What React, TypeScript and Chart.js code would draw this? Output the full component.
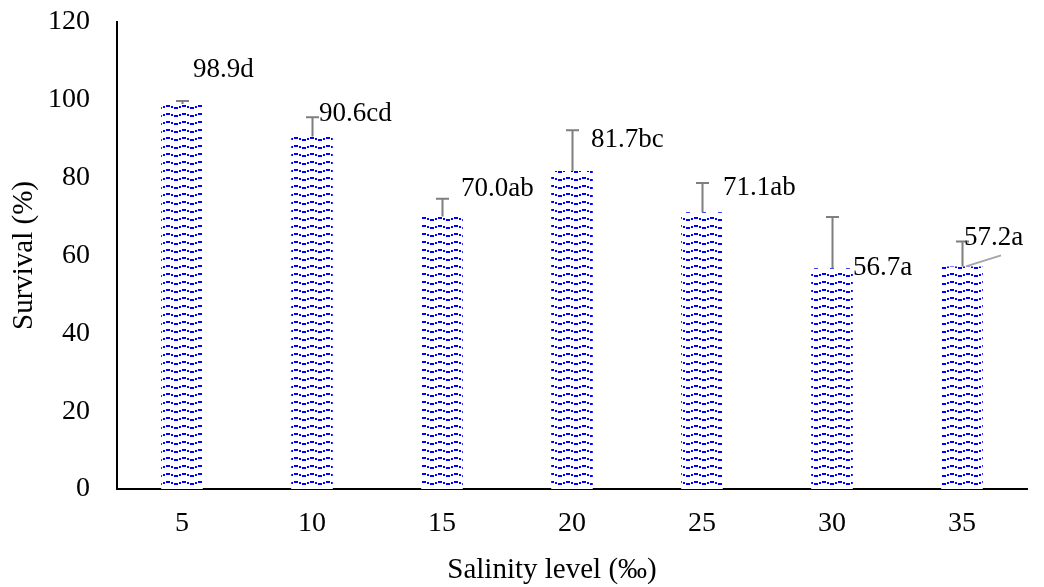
import React, { useEffect, useRef } from "react";
import { Chart, registerables } from "chart.js";

Chart.register(...registerables);

const categories = ["5", "10", "15", "20", "25", "30", "35"];
const survival = [98.9, 90.6, 70.0, 81.7, 71.1, 56.7, 57.2];
const errors = [0.8, 4.9, 4.6, 10.5, 7.5, 13.2, 6.4];
const letters = ["d", "cd", "ab", "bc", "ab", "a", "a"];
const yTicks = [0, 20, 40, 60, 80, 100, 120];
const xTitle = "Salinity level (‰)";
const yTitle = "Survival (%)";

// label placement offsets relative to bar top (px)
const labelOffsets = [
  [11, -34],
  [7, -23],
  [19, -28],
  [19, -31],
  [21, -24],
  [21, 0],
  [2, -28],
];

const FONT = "'Liberation Serif', 'Times New Roman', serif";

function makePattern(): CanvasPattern | string {
  const c = document.createElement("canvas");
  c.width = 16;
  c.height = 8;
  const g = c.getContext("2d");
  if (!g) return "#0000ff";
  g.fillStyle = "#ffffff";
  g.fillRect(0, 0, 16, 8);
  g.fillStyle = "#0000ff";
  g.fillRect(6, 1, 4, 2);
  g.fillRect(3, 2, 2, 2);
  g.fillRect(11, 2, 2, 2);
  g.fillRect(0, 3, 2, 2);
  g.fillRect(14, 3, 2, 2);
  const p = g.createPattern(c, "repeat");
  return p || "#0000ff";
}

const overlayPlugin = {
  id: "overlay",
  afterDatasetsDraw(chart: any) {
    const ctx = chart.ctx;
    const meta = chart.getDatasetMeta(0);
    const y = chart.scales.y;
    const area = chart.chartArea;
    ctx.save();
    ctx.strokeStyle = "#7f7f7f";
    ctx.lineWidth = 2;
    meta.data.forEach((bar: any, i: number) => {
      const x = Math.round(bar.x) + 0.5;
      const top = y.getPixelForValue(survival[i]);
      const hi = y.getPixelForValue(survival[i] + errors[i]);
      ctx.beginPath();
      ctx.moveTo(x, top);
      ctx.lineTo(x, hi);
      ctx.moveTo(x - 6.5, hi);
      ctx.lineTo(x + 6.5, hi);
      ctx.stroke();
    });
    const last = meta.data[6];
    if (last) {
      const top = y.getPixelForValue(survival[6]);
      ctx.strokeStyle = "#a6a6a6";
      ctx.lineWidth = 2;
      ctx.beginPath();
      ctx.moveTo(last.x + 4, top);
      ctx.lineTo(last.x + 39, top - 11);
      ctx.stroke();
    }
    ctx.fillStyle = "#000000";
    ctx.font = `27px ${FONT}`;
    ctx.textAlign = "left";
    ctx.textBaseline = "middle";
    meta.data.forEach((bar: any, i: number) => {
      const top = y.getPixelForValue(survival[i]);
      const [dx, dy] = labelOffsets[i];
      ctx.fillText(survival[i].toFixed(1) + letters[i], bar.x + dx, top + dy);
    });
    // axis titles
    ctx.font = `29px ${FONT}`;
    ctx.textAlign = "center";
    ctx.fillText(xTitle, (area.left + area.right) / 2 - 20, 570);
    ctx.translate(24, (area.top + area.bottom) / 2);
    ctx.rotate(-Math.PI / 2);
    ctx.fillText(yTitle, 0, 0);
    ctx.restore();
  },
};

export default function App() {
  const ref = useRef<HTMLCanvasElement>(null);
  useEffect(() => {
    if (!ref.current) return;
    const chart = new Chart(ref.current, {
      type: "bar",
      data: {
        labels: categories,
        datasets: [
          {
            data: survival,
            backgroundColor: makePattern() as any,
            borderWidth: 0,
            categoryPercentage: 1,
            barPercentage: 0.32,
          },
        ],
      },
      options: {
        animation: false,
        responsive: true,
        maintainAspectRatio: false,
        layout: { padding: { top: 22, right: 17, left: 0, bottom: 0 } },
        plugins: {
          legend: { display: false },
          tooltip: { enabled: false },
        },
        scales: {
          x: {
            grid: { display: false, drawTicks: false },
            border: { display: true, color: "#000000", width: 2 },
            ticks: {
              color: "#000000",
              font: { family: FONT, size: 28 },
              padding: 18,
            },
            afterFit: (s: any) => {
              s.height = 98;
            },
          },
          y: {
            min: 0,
            max: 120,
            grid: { display: false, drawTicks: false },
            border: { display: true, color: "#000000", width: 2 },
            afterBuildTicks: (s: any) => {
              s.ticks = yTicks.map((v) => ({ value: v }));
            },
            ticks: {
              color: "#000000",
              font: { family: FONT, size: 28 },
              padding: 27,
            },
            afterFit: (s: any) => {
              s.width = 117;
              s.paddingTop = 0;
              s.paddingBottom = 0;
            },
          },
        },
      },
      plugins: [overlayPlugin],
    });
    return () => chart.destroy();
  }, []);
  return (
    <div style={{ position: "absolute", left: 0, top: 0, width: 1044, height: 587, background: "#fff" }}>
      <canvas ref={ref} />
    </div>
  );
}
